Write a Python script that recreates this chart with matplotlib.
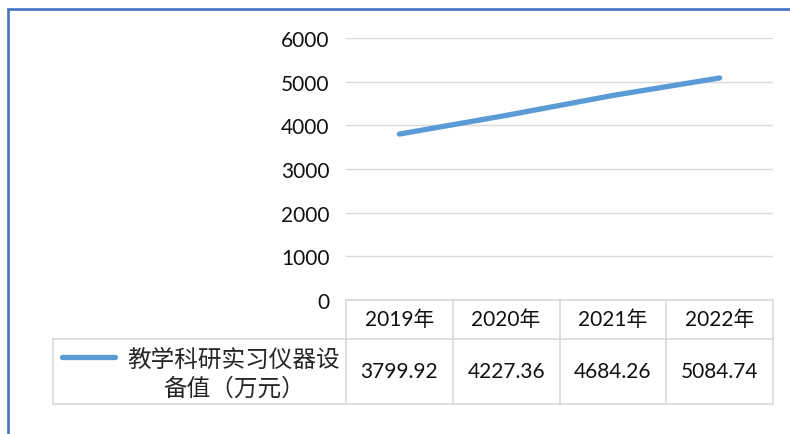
import matplotlib
matplotlib.use("Agg")
import matplotlib.pyplot as plt
import matplotlib.transforms as mtransforms
from matplotlib.lines import Line2D
from matplotlib.patches import Rectangle

# data
years = ["2019年", "2020年", "2021年", "2022年"]
values = [3799.92, 4227.36, 4684.26, 5084.74]
series_name = "教学科研实习仪器设\n备值（万元）"
yticks = [0, 1000, 2000, 3000, 4000, 5000, 6000]

W, H = 790, 435
fam = ["Lato", "Noto Sans CJK SC", "DejaVu Sans"]
cjk = ["Noto Sans CJK SC", "DejaVu Sans"]
blue = "#5b9bd5"
grid = "#d9d9d9"
txt = "#111111"

fig = plt.figure(figsize=(W / 100, H / 100), dpi=100)

# plot area in pixels (left, top, right, bottom)
L, T, R, B = 346, 39, 773, 301
ax = fig.add_axes([L / W, 1 - B / H, (R - L) / W, (B - T) / H])

x = list(range(len(years)))
ax.plot(x, values, color=blue, lw=3.8, solid_capstyle="round")
ax.set_xlim(-0.5, len(years) - 0.5)
ax.set_ylim(0, 6000)
ax.set_yticks(yticks)
ax.set_yticklabels([str(v) for v in yticks], family=fam, fontsize=15, color=txt)
ax.set_xticks([])
ax.tick_params(axis="y", length=0, pad=12)
ax.yaxis.grid(True, color=grid, lw=1.0)
ax.set_axisbelow(True)
for s in ax.spines.values():
    s.set_visible(False)

# data table below the plot
ph = B - T
r1 = -(340 - B) / ph       # bottom of header row
r2 = -(405 - B) / ph       # bottom of value row
leg_left = -(L - 53) / (R - L)
blend = mtransforms.blended_transform_factory(ax.transData, ax.transAxes)
lk = dict(color=grid, lw=1.2, clip_on=False)

ax.add_line(Line2D([0, 1], [0, 0], transform=ax.transAxes, **lk))
ax.add_line(Line2D([leg_left, 1], [r1, r1], transform=ax.transAxes, **lk))
ax.add_line(Line2D([leg_left, 1], [r2, r2], transform=ax.transAxes, **lk))
ax.add_line(Line2D([leg_left, leg_left], [r1, r2], transform=ax.transAxes, **lk))
for i in range(len(years) + 1):
    xb = i - 0.5
    ax.add_line(Line2D([xb, xb], [0, r2], transform=blend, **lk))

for i, (yr, v) in enumerate(zip(years, values)):
    ax.text(i, r1 / 2, yr, transform=blend, ha="center", va="center",
            family=fam, fontsize=15, color=txt)
    ax.text(i, (r1 + r2) / 2, f"{v:.2f}", transform=blend, ha="center",
            va="center", family=fam, fontsize=15, color=txt)

# legend key and series name
ky = -(358 - B) / ph
ax.add_line(Line2D([-(L - 62) / (R - L), -(L - 115) / (R - L)], [ky, ky],
                   transform=ax.transAxes, color=blue, lw=3.8,
                   solid_capstyle="round", clip_on=False))
ax.text(-(L - 234) / (R - L), -(374.5 - B) / ph, series_name,
        transform=ax.transAxes, ha="center", va="center", family=cjk,
        fontsize=17, color="#262626", linespacing=1.32, multialignment="center")

# chart border (runs off the right and bottom edges)
fig.patches.append(Rectangle((8 / W, -0.1), 1.2, 1 - 10 / H + 0.1,
                             transform=fig.transFigure, fill=False,
                             edgecolor="#4472c4", lw=1.9))

fig.savefig("out.png", dpi=100)
